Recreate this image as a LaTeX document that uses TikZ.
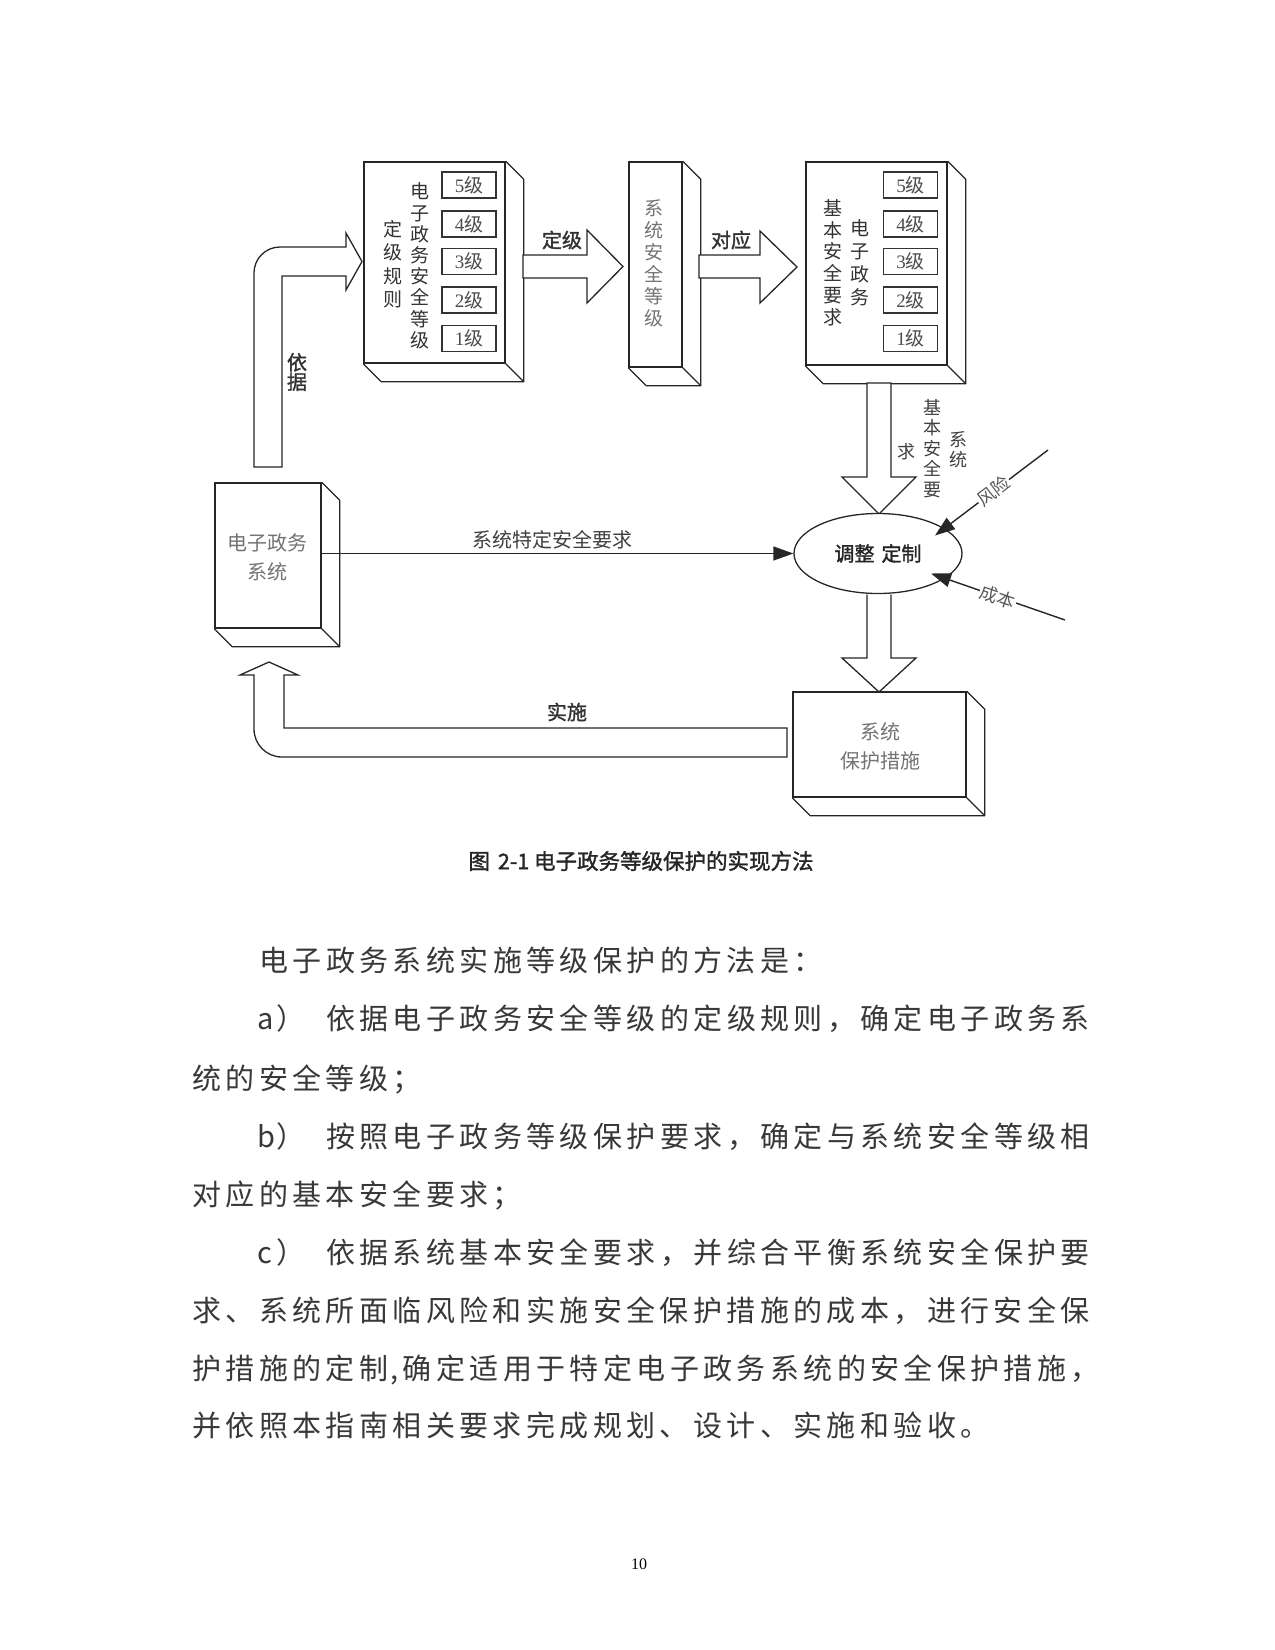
\documentclass[tikz,border=0pt]{standalone}
\usepackage{fontspec}
\setmainfont{Liberation Serif}
\newfontfamily\cjk{Noto Sans CJK SC}
\newfontfamily\cjkb[FakeBold=1.5]{Noto Sans CJK SC}
\usetikzlibrary{arrows.meta,calc,shapes.geometric}
\newlength\cpitch
\setlength\cpitch{33.4pt}
\newcommand\spreadrow[1]{\spreadstep#1\relax}
\def\spreadstep#1{\ifx#1\relax\else\makebox[\cpitch]{#1}\expandafter\spreadstep\fi}
\newcommand\drawdepthof[1]{%
  \draw[dline] (#1.north east) -- ++(18,18) -- ($(#1.south east)+(18,18)$) -- ($(#1.south west)+(18,18)$) -- (#1.south west);
  \draw[dline] (#1.south east) -- ++(18,18);}
\begin{document}
\begin{tikzpicture}[x=1pt,y=-1pt,
  box/.style={draw=black!85, line width=1.5pt, fill=white, inner sep=0pt},
  dline/.style={draw=black!85, line width=1.2pt, line join=round},
  lvl/.style={draw=black!80, line width=1.1pt, minimum width=54pt, minimum height=26pt, inner sep=0pt, font=\fontsize{19}{19}\selectfont, text=black!70},
  blk/.style={draw=black!85, line width=1.3pt, fill=white, line join=miter},
  vt/.style={align=center, inner sep=0pt, font=\fontsize{19}{21.2}\selectfont\cjk, text=black!80},
  vtg/.style={align=center, inner sep=0pt, font=\fontsize{19}{22}\selectfont\cjk, text=black!55},
  vts/.style={align=center, inner sep=0pt, font=\fontsize{18}{20.5}\selectfont\cjk, text=black!75},
  lab/.style={inner sep=1pt, font=\fontsize{20}{20}\selectfont\cjkb, text=black!80},
  boxtxt/.style={align=center, inner sep=0pt, font=\fontsize{20}{29}\selectfont\cjk, text=black!55},
  thinarr/.style={draw=black!85, line width=1.4pt, -{Triangle[length=20pt,width=14pt]}},
  side/.style={fill=white, inner sep=1pt, font=\fontsize{18}{18}\selectfont\cjk, text=black!65},
  body/.style={anchor=base west, inner sep=0pt, font=\fontsize{29}{29}\selectfont\cjk, text=black!78}
]
\fill[white] (0,0) rectangle (1275,1650);
\useasboundingbox (0,0) rectangle (1275,1650);

% boxes
\node[box, minimum width=141pt, minimum height=201pt] (b1) at (434.5,262.5) {};
\node[box, minimum width=53pt, minimum height=205pt] (b2) at (655.5,264.5) {};
\node[box, minimum width=141pt, minimum height=203pt] (b3) at (876.5,263.5) {};
\node[box, minimum width=106pt, minimum height=145pt] (b5) at (268,555.5) {};
\node[box, minimum width=173pt, minimum height=105pt] (b4) at (879.5,744.5) {};
\drawdepthof{b1}
\drawdepthof{b2}
\drawdepthof{b3}
\drawdepthof{b5}
\drawdepthof{b4}

% level boxes
\foreach \n/\yy in {5/185,4/224,3/261.5,2/300,1/338.5}{
  \node[lvl] (la\n) at (469,\yy) {\n{\cjk 级}};
  \node[lvl] (lb\n) at (910.5,\yy) {\n{\cjk 级}};
}

% box texts
\node[vt] (t1a) at (420,266) {电\\子\\政\\务\\安\\全\\等\\级};
\node[vt, font=\fontsize{19}{23.5}\selectfont\cjk] (t1b) at (393,264) {定\\级\\规\\则};
\node[vtg] (t2a) at (654,263) {系\\统\\安\\全\\等\\级};
\node[vt, font=\fontsize{19}{23}\selectfont\cjk] (t3a) at (860,262.5) {电\\子\\政\\务};
\node[vt, font=\fontsize{19}{21.8}\selectfont\cjk] (t3b) at (833,262.5) {基\\本\\安\\全\\要\\求};
\node[boxtxt] (t5) at (267,557.5) {电子政务\\系统};
\node[boxtxt] (t4) at (880,746) {系统\\保护措施};

% block arrows
\draw[blk] (254,467) -- (254,273) .. controls (254,258.6) and (265.6,247) .. (280,247) -- (346,247) -- (346,233) -- (362,261.5) -- (346,290) -- (346,276) -- (282,276) -- (282,467) -- cycle;
\draw[blk] (523,255) -- (587,255) -- (587,230) -- (623,266.5) -- (587,303) -- (587,278) -- (523,278) -- cycle;
\draw[blk] (699,255) -- (760,255) -- (760,231) -- (797,267) -- (760,303) -- (760,278) -- (699,278) -- cycle;
\draw[blk] (867,383) -- (867,477) -- (842,477) -- (879,514) -- (916,477) -- (891,477) -- (891,383) -- cycle;
\draw[blk] (787,728) -- (787,757) -- (282,757) .. controls (266.5,757) and (254,744.5) .. (254,729) -- (254,675) -- (240,675) -- (269,662) -- (298,675) -- (284,675) -- (284,728) -- cycle;

% ellipse
\node[ellipse, draw=black!85, line width=1.3pt, fill=white, minimum width=168pt, minimum height=80pt, inner sep=0pt, font=\fontsize{20}{20}\selectfont\cjkb, text=black!85] (e) at (878,553.5) {调整\hspace{7pt}定制};
\draw[blk] (867,594.5) -- (867,658) -- (842,658) -- (879,692) -- (916,658) -- (891,658) -- (891,594.5);

% arrow labels
\node[lab] (ldj) at (562,240) {定级};
\node[lab] (ldy) at (731,240) {对应};
\node[vt, font=\fontsize{20}{19.5}\selectfont\cjkb] (lyj) at (297,372) {依\\据};
\node[vts] (s1) at (958,449.5) {系\\统};
\node[vts] (s2) at (932,448.5) {基\\本\\安\\全\\要};
\node[vts] (s3) at (906,452) {求};

% thin arrows
\coordinate (rk) at (1048,450);
\coordinate (cb) at (1065,620);
\draw[thinarr] (b5.east |- e.west) -- (e.west);
\node[inner sep=0pt, font=\fontsize{20}{20}\selectfont\cjk, text=black!75] (lt) at (552,540) {系统特定安全要求};
\draw[thinarr] (rk) -- node[side, sloped, pos=0.48] (lr) {风险} ($(e.center)+(57,-18)$);
\draw[thinarr] (cb) -- node[side, sloped, pos=0.5] (lc) {成本} ($(e.center)+(53,20)$);
\node[lab] (lss) at (567,712) {实施};

% caption
\node[inner sep=0pt, font=\fontsize{21.5}{21.5}\selectfont\cjkb, text=black!85] (cap) at (641,861) {图\hspace{8pt}2-1 电子政务等级保护的实现方法};

% body text
\node[body] (p1) at (257,971) {\spreadrow{电子政务系统实施等级保护的方法是：}};
\node[body] (p2) at (257,1029) {\makebox[0.5\cpitch][l]{a}\makebox[\cpitch]{）}\hspace*{0.5\cpitch}\spreadrow{依据电子政务安全等级的定级规则，确定电子政务系}};
\node[body] (p3) at (190,1089) {\spreadrow{统的安全等级；}};
\node[body] (p4) at (257,1147) {\makebox[0.5\cpitch][l]{b}\makebox[\cpitch]{）}\hspace*{0.5\cpitch}\spreadrow{按照电子政务等级保护要求，确定与系统安全等级相}};
\node[body] (p5) at (190,1205) {\spreadrow{对应的基本安全要求；}};
\node[body] (p6) at (257,1263) {\makebox[0.5\cpitch][l]{c}\makebox[\cpitch]{）}\hspace*{0.5\cpitch}\spreadrow{依据系统基本安全要求，并综合平衡系统安全保护要}};
\node[body] (p7) at (190,1321) {\spreadrow{求、系统所面临风险和实施安全保护措施的成本，进行安全保}};
\node[body] (p8) at (190,1379) {\spreadrow{护措施的定制}\makebox[0.3\cpitch][l]{,}\spreadrow{确定适用于特定电子政务系统的安全保护措施，}};
\node[body] (p9) at (190,1436) {\spreadrow{并依照本指南相关要求完成规划、设计、实施和验收。}};

% page number
\node[inner sep=0pt, font=\fontsize{16}{16}\selectfont] (pg) at (639,1564) {10};
\end{tikzpicture}
\end{document}
